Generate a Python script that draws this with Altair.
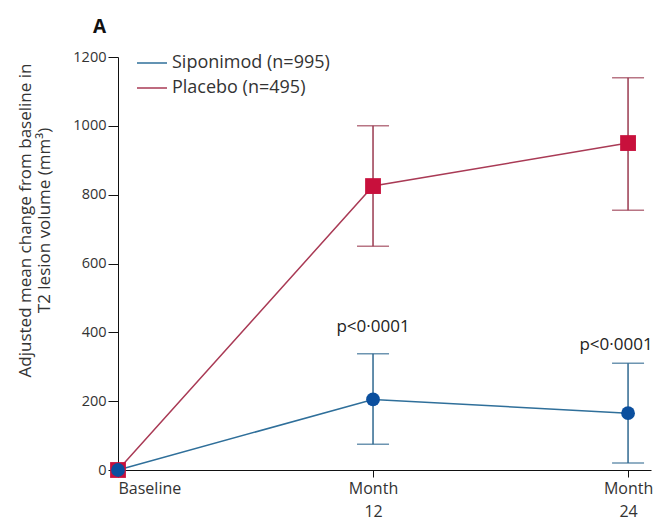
import altair as alt
import pandas as pd

# ---- data ----
timepoints = [0, 1, 2]                      # Baseline, Month 12, Month 24
tick_labels = ["Baseline", "Month\n12", "Month\n24"]
series = ["Siponimod (n=995)", "Placebo (n=495)"]
siponimod_mean = [0, 205, 165]
siponimod_lo = [None, 75, 20]
siponimod_hi = [None, 338, 310]
placebo_mean = [0, 825, 950]
placebo_lo = [None, 650, 755]
placebo_hi = [None, 1000, 1140]
p_labels = ["p<0·0001", "p<0·0001"]
p_x = [1, 2]
p_y = [338, 310]

line_colors = ["#2f6f9a", "#a93a55"]
marker_colors = ["#0b4f9e", "#c8103c"]
err_colors = ["#2f6890", "#9a3a50"]
shapes = ["circle", "square"]
sizes = [190, 250]

FONT = "Open Sans"

rows = []
for name, m, lo, hi in [
    (series[0], siponimod_mean, siponimod_lo, siponimod_hi),
    (series[1], placebo_mean, placebo_lo, placebo_hi),
]:
    for t, mv, l, h in zip(timepoints, m, lo, hi):
        rows.append({"series": name, "t": t, "mean": mv, "lo": l, "hi": h})
df = pd.DataFrame(rows)

x_enc = alt.X(
    "t:Q",
    scale=alt.Scale(domain=[0, 2.09], nice=False, zero=False),
    axis=alt.Axis(
        values=timepoints,
        labelExpr="datum.value == 0 ? 'Baseline' : datum.value == 1 ? ['Month', '12'] : ['Month', '24']",
        title=None,
        grid=False,
        domainColor="#111",
        tickColor="#111",
        tickSize=7,
        labelFontSize=16,
        labelFont=FONT,
        labelColor="#333",
        labelPadding=3,
        labelLineHeight=23,
        labelBaseline="top",
    ),
)
y_scale = alt.Scale(domain=[0, 1200], nice=False)
y_axis = alt.Axis(
    values=[0, 200, 400, 600, 800, 1000, 1200],
    format="d",
    title=["Adjusted mean change from baseline in", "T2 lesion volume (mm³)"],
    titleFont=FONT,
    titleFontSize=17,
    titleFontWeight="normal",
    titleColor="#333",
    titlePadding=19,
    titleLineHeight=19,
    titleY=163,
    grid=False,
    domainColor="#111",
    tickColor="#111",
    tickSize=10,
    labelFontSize=14.5,
    labelFont=FONT,
    labelColor="#333",
    labelPadding=2,
)

color_scale = alt.Scale(domain=series, range=line_colors)

layers = []
for i, name in enumerate(series):
    sub = df[df["series"] == name]
    err = sub.dropna()
    line = alt.Chart(sub).mark_line(strokeWidth=1.5).encode(
        x=x_enc,
        y=alt.Y("mean:Q", scale=y_scale, axis=y_axis),
        color=alt.Color(
            "series:N",
            scale=color_scale,
            legend=alt.Legend(
                title=None,
                orient="none",
                legendX=18,
                legendY=-10,
                symbolType="stroke",
                symbolSize=900,
                symbolStrokeWidth=1.5,
                labelFont=FONT,
                labelFontSize=18,
                labelColor="#333",
                rowPadding=-6,
                labelOffset=4,
            ),
        ),
    )
    rule = alt.Chart(err).mark_rule(color=err_colors[i], strokeWidth=1.5).encode(
        x="t:Q", y=alt.Y("lo:Q", scale=y_scale), y2="hi:Q"
    )
    cap_lo = alt.Chart(err).mark_tick(
        color=err_colors[i], orient="horizontal", size=32, thickness=1.5
    ).encode(x="t:Q", y=alt.Y("lo:Q", scale=y_scale))
    cap_hi = alt.Chart(err).mark_tick(
        color=err_colors[i], orient="horizontal", size=32, thickness=1.5
    ).encode(x="t:Q", y=alt.Y("hi:Q", scale=y_scale))
    pts = alt.Chart(sub).mark_point(
        filled=True, opacity=1, shape=shapes[i], size=sizes[i], color=marker_colors[i]
    ).encode(x="t:Q", y=alt.Y("mean:Q", scale=y_scale))
    layers.append((line, rule, cap_lo, cap_hi, pts))

pdf = pd.DataFrame({"t": p_x, "y": p_y, "label": p_labels})
ptext1 = alt.Chart(pdf.iloc[[0]]).mark_text(
    font=FONT, fontSize=17, color="#222", dy=-27
).encode(x="t:Q", y=alt.Y("y:Q", scale=y_scale), text="label:N")
ptext2 = alt.Chart(pdf.iloc[[1]]).mark_text(
    font=FONT, fontSize=17, color="#222", dy=-18, dx=-12
).encode(x="t:Q", y=alt.Y("y:Q", scale=y_scale), text="label:N")

order = []
for L in layers:
    order.append(L[0])
for L in layers:
    order += [L[1], L[2], L[3]]
order.append(layers[1][4])
order.append(layers[0][4])
order += [ptext1, ptext2]

chart = alt.layer(*order).properties(
    width=533,
    height=413,
    autosize=alt.AutoSizeParams(type="none"),
    padding={"left": 110, "top": 49, "right": 2, "bottom": 50},
    title=alt.TitleParams(
        "A", anchor="start", frame="group", dx=-25, offset=10, fontSize=19,
        fontWeight="bold", font=FONT, color="#111",
    ),
).configure_view(stroke=None)

chart.save("out.html", embed_options={"renderer": "svg", "actions": False})
